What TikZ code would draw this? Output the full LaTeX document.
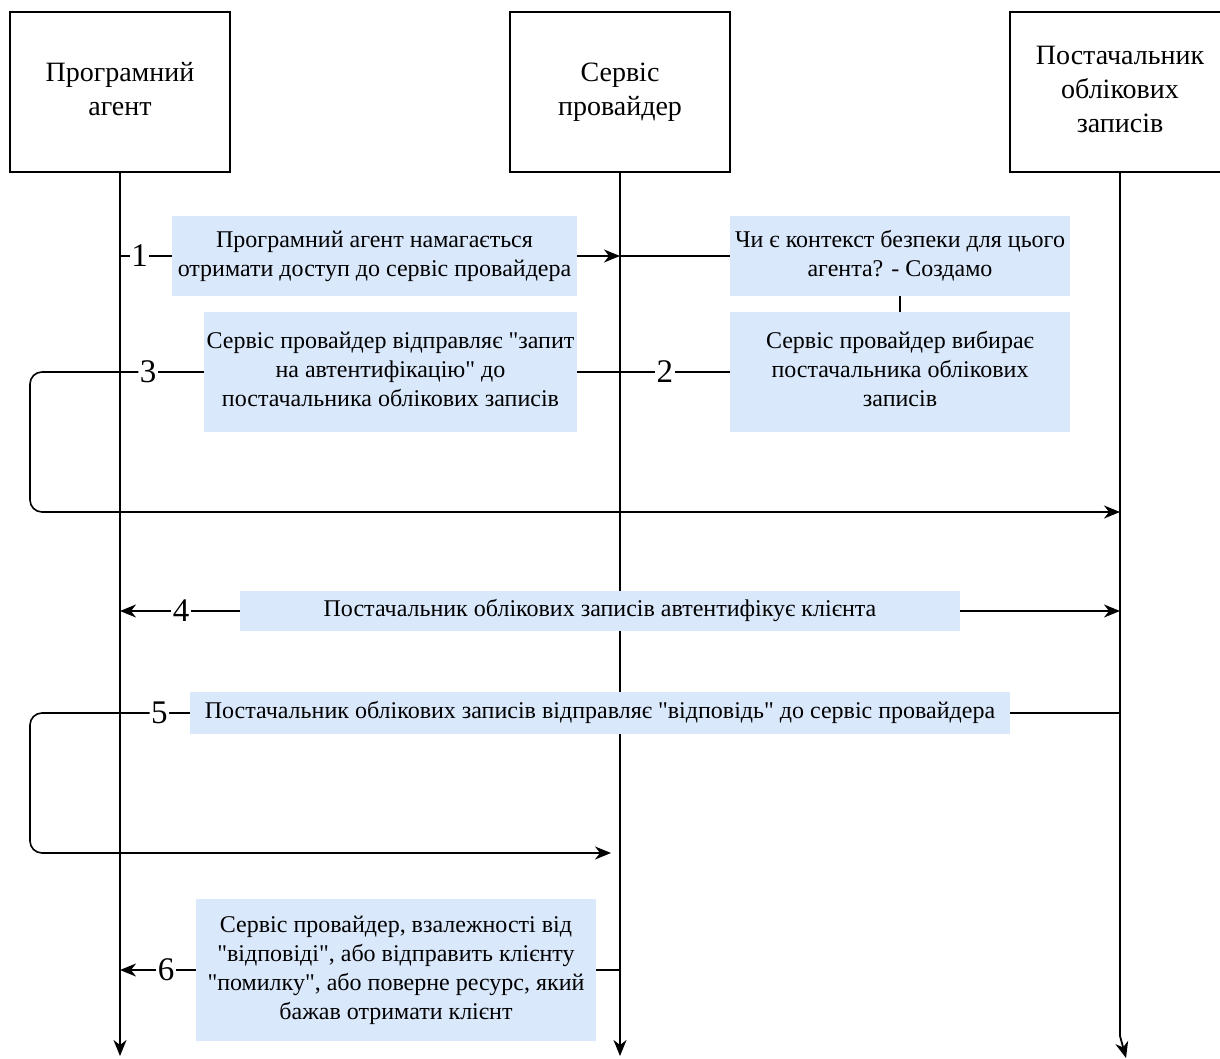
\documentclass[tikz,border=0pt]{standalone}
\usepackage{fontspec}
\setmainfont{Liberation Serif}[Ligatures=TeXOff]
\usetikzlibrary{arrows.meta}
\definecolor{msgblue}{HTML}{DAE8FC}
\begin{document}
\begin{tikzpicture}[x=1pt,y=-1pt,
  hdr/.style={draw, line width=1.8pt, minimum width=220pt, minimum height=160pt, inner sep=0pt},
  hdrtext/.style={inner sep=0pt, align=center, font=\fontsize{28}{34}\selectfont},
  msg/.style={fill=msgblue, inner sep=0pt, align=center, font=\fontsize{24}{29}\selectfont},
  num/.style={fill=white, inner sep=1.5pt, font=\fontsize{33}{36}\selectfont},
  ln/.style={line width=1.6pt},
  life/.style={line width=1.8pt, -{Stealth[length=16pt,width=13pt,inset=5pt]}},
  arr/.style={ln, -{Stealth[length=16pt,width=13pt,inset=5pt]}},
]
\useasboundingbox (0,0) rectangle (1220,1059);
\clip (0,0) rectangle (1220,1059);

% headers
\node[hdr] (h1) at (120,92) {};
\node[hdr] (h2) at (620,92) {};
\node[hdr] (h3) at (1120,92) {};
\node[hdrtext] (t1) at (120,92) {\strut Програмний\\агент\strut};
\node[hdrtext] (t2) at (620,92) {\strut Сервіс\\провайдер\strut};
\node[hdrtext] (t3) at (1120,92) {\strut Постачальник\\облікових\\записів\strut};

% lifeline ends
\coordinate (e1) at (120,1056);
\coordinate (e2) at (620,1056);
\coordinate (e3a) at (1120,1036);
\coordinate (e3) at (1126,1058);
\draw[life] (h1.south) -- (e1);
\draw[life] (h2.south) -- (e2);
\draw[life] (h3.south) -- (e3a) -- (e3);

% message boxes
\node[msg, minimum width=405pt, minimum height=80pt] (m1) at (374.5,256) {\strut Програмний агент намагається\\отримати доступ до сервіс провайдера\strut};
\node[msg, minimum width=340pt, minimum height=80pt] (m2a) at (900,256) {\strut Чи є контекст безпеки для цього\\агента? - Создамо\strut};
\node[msg, minimum width=340pt, minimum height=120pt] (m2b) at (900,372) {\strut Сервіс провайдер вибирає\\постачальника облікових\\записів\strut};
\node[msg, minimum width=373pt, minimum height=120pt] (m3) at (390.5,372) {\strut Сервіс провайдер відправляє "запит\\на автентифікацію" до\\постачальника облікових записів\strut};
\node[msg, minimum width=720pt, minimum height=40pt] (m4) at (600,611) {\strut Постачальник облікових записів автентифікує клієнта};
\node[msg, minimum width=820pt, minimum height=42pt] (m5) at (600,713) {\strut Постачальник облікових записів відправляє "відповідь" до сервіс провайдера};
\node[msg, minimum width=400pt, minimum height=142pt] (m6) at (396,970) {\strut Сервіс провайдер, взалежності від\\"відповіді", або відправить клієнту\\"помилку", або поверне ресурс, який\\бажав отримати клієнт\strut};

% points on lifelines and bends
\coordinate (l1s1) at (120,256);
\coordinate (l2s1) at (620,256);
\coordinate (c3a) at (30,372);
\coordinate (c3b) at (30,512);
\coordinate (l3s3) at (1120,512);
\coordinate (l1s4) at (120,611);
\coordinate (l3s4) at (1120,611);
\coordinate (l3s5) at (1120,713);
\coordinate (c5a) at (30,713);
\coordinate (c5b) at (30,853);
\coordinate (l2s5) at (611,853);
\coordinate (l2s6) at (620,970);
\coordinate (l1s6) at (120,970);

% step 1
\draw[ln] (l1s1) -- node[num, pos=0.38] (n1) {1} (m1.west);
\draw[arr] (m1.east) -- (l2s1);
\draw[ln] (l2s1) -- (m2a.west);
\draw[ln] (m2a.south) -- (m2b.north);
% step 2
\draw[ln] (m2b.west) -- node[num, pos=0.425] (n2) {2} (m3.east);
% step 3
\draw[arr, rounded corners=12pt] (m3.west) -- node[num, pos=0.32] (n3) {3} (c3a) -- (c3b) -- (l3s3);
% step 4
\draw[arr] (m4.west) -- node[num, pos=0.49] (n4) {4} (l1s4);
\draw[arr] (m4.east) -- (l3s4);
% step 5
\draw[ln] (l3s5) -- (m5.east);
\draw[arr, rounded corners=12pt] (m5.west) -- node[num, pos=0.19] (n5) {5} (c5a) -- (c5b) -- (l2s5);
% step 6
\draw[ln] (l2s6) -- (m6.east);
\draw[arr] (m6.west) -- node[num, pos=0.39] (n6) {6} (l1s6);
\end{tikzpicture}
\end{document}
